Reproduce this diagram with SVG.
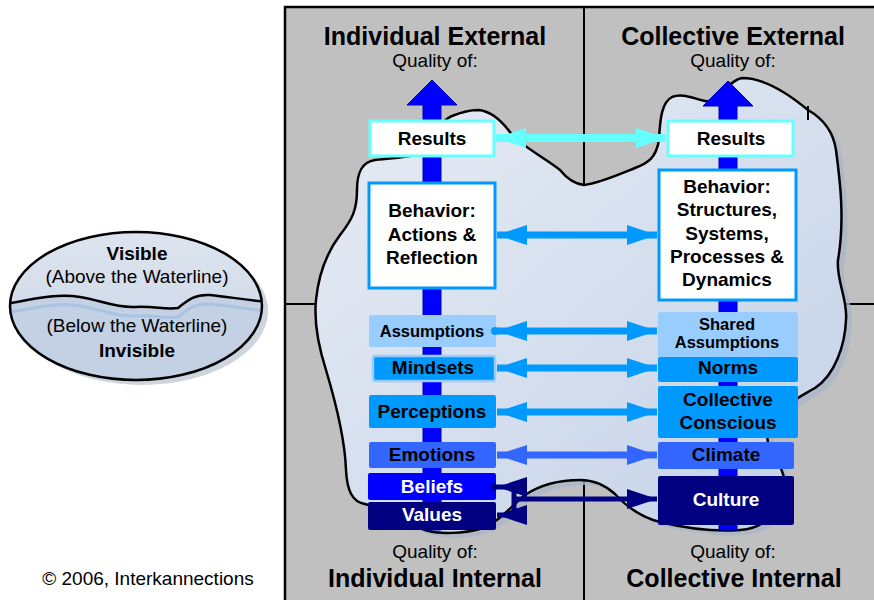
<svg xmlns="http://www.w3.org/2000/svg" width="874" height="600" viewBox="0 0 874 600">
<style>
text{font-family:"Liberation Sans",Arial,Helvetica,sans-serif;fill:#000}
.c{text-anchor:middle}
.b{font-weight:bold}
.lbl{font-weight:bold;font-size:19px;text-anchor:middle}
.sm{font-size:16.5px}
.w{fill:#fff}
.title{font-weight:bold;font-size:25px;text-anchor:middle}
.q{font-size:19px;text-anchor:middle}
.el{font-size:19px;text-anchor:middle}
.div{stroke:#000;stroke-width:2;fill:none}
.res{fill:#fff;stroke:#66ffff;stroke-width:3}
.beh{fill:#fff;stroke:#0099ff;stroke-width:3}
.vshaft{fill:#0000ff;stroke:#0000b0;stroke-width:1}
.cy{stroke:#66ffff;stroke-width:8;fill:none}
.bl{stroke:#0099ff;stroke-width:7;fill:none}
.bm{stroke:#3366ff;stroke-width:7;fill:none}
.nv{stroke:#000080;stroke-width:5;fill:none}
</style>
<defs>
<linearGradient id="cloudG" x1="0" y1="0" x2="1" y2="1">
<stop offset="0" stop-color="#e8edf5"/>
<stop offset="1" stop-color="#c3d1e7"/>
</linearGradient>
<linearGradient id="ellG" x1="0" y1="0" x2="0" y2="1">
<stop offset="0" stop-color="#dde4ef"/>
<stop offset="1" stop-color="#c9d4e6"/>
</linearGradient>
<clipPath id="ellClip"><ellipse cx="136" cy="306" rx="126" ry="74"/></clipPath>
<marker id="mCy" markerUnits="userSpaceOnUse" markerWidth="30" markerHeight="20" refX="30" refY="10" orient="auto-start-reverse"><path d="M0,0 L30,10 L0,20 z" fill="#66ffff"/></marker>
<marker id="mBl" markerUnits="userSpaceOnUse" markerWidth="30" markerHeight="20" refX="30" refY="10" orient="auto-start-reverse"><path d="M0,0 L30,10 L0,20 z" fill="#0099ff"/></marker>
<marker id="mBm" markerUnits="userSpaceOnUse" markerWidth="30" markerHeight="20" refX="30" refY="10" orient="auto-start-reverse"><path d="M0,0 L30,10 L0,20 z" fill="#3366ff"/></marker>
<marker id="mNv" markerUnits="userSpaceOnUse" markerWidth="30" markerHeight="20" refX="30" refY="10" orient="auto-start-reverse"><path d="M0,0 L30,10 L0,20 z" fill="#000080"/></marker>
</defs>
<rect width="874" height="600" fill="#fff"/>

<!-- quadrant panel -->
<g id="quadrants">
<rect x="285" y="7" width="600" height="600" fill="#c0c0c0" stroke="#000" stroke-width="2.5"/>
<line class="div" x1="584" y1="7" x2="584" y2="600"/>
<line class="div" x1="285" y1="304" x2="874" y2="304"/>
</g>

<!-- iceberg cloud -->
<g id="iceberg">
<path transform="translate(6,5)" fill="#a9b5c9" opacity="0.75" d="M452,116 C462,112 470,110 478,110 C492,111 503,122 512,135 C522,146 548,160 560,170 C568,180 575,184 584,185 C600,183 620,174 635,168 C648,163 656,158 659,140 C660,118 662,102 672,97 C682,93 692,98 705,101 C718,104 728,80 742,78 C765,78 790,95 808,110 C822,118 833,130 836,150 C840,180 845,220 838,260 C836,280 848,300 846,320 C845,345 835,375 815,388 C805,394 795,398 790,405 C775,418 765,432 768,442 C772,455 782,465 784,478 C790,500 770,528 740,530 C715,532 685,528 660,522 C640,517 625,505 615,494 C605,485 595,480 580,480 C560,480 540,485 525,495 C512,505 500,522 480,529 C465,533 440,535 425,530 C400,520 380,507 365,504 C352,502 347,490 346,470 C345,440 335,400 326,370 C318,345 314,320 316,300 C318,280 325,255 340,235 C352,220 357,210 357,190 C357,172 362,162 375,160 C390,158 400,158 410,156 C425,150 440,120 452,116 Z"/>
<path fill="url(#cloudG)" stroke="#000" stroke-width="2.5" d="M452,116 C462,112 470,110 478,110 C492,111 503,122 512,135 C522,146 548,160 560,170 C568,180 575,184 584,185 C600,183 620,174 635,168 C648,163 656,158 659,140 C660,118 662,102 672,97 C682,93 692,98 705,101 C718,104 728,80 742,78 C765,78 790,95 808,110 C822,118 833,130 836,150 C840,180 845,220 838,260 C836,280 848,300 846,320 C845,345 835,375 815,388 C805,394 795,398 790,405 C775,418 765,432 768,442 C772,455 782,465 784,478 C790,500 770,528 740,530 C715,532 685,528 660,522 C640,517 625,505 615,494 C605,485 595,480 580,480 C560,480 540,485 525,495 C512,505 500,522 480,529 C465,533 440,535 425,530 C400,520 380,507 365,504 C352,502 347,490 346,470 C345,440 335,400 326,370 C318,345 314,320 316,300 C318,280 325,255 340,235 C352,220 357,210 357,190 C357,172 362,162 375,160 C390,158 400,158 410,156 C425,150 440,120 452,116 Z"/>
<line x1="808" y1="106" x2="808" y2="120" stroke="#000" stroke-width="2"/>
</g>

<!-- vertical development arrows -->
<g id="individual-axis">
<polygon class="vshaft" points="423,530 423,105 407,105 432,80 457,105 441,105 441,530"/>
</g>
<g id="collective-axis">
<polygon class="vshaft" points="719,530 719,106 703,106 728,81 753,106 737,106 737,530"/>
</g>

<!-- titles -->
<g id="titles">
<text class="title" x="435" y="45">Individual External</text>
<text class="q" x="435" y="67">Quality of:</text>
<text class="title" x="733" y="45">Collective External</text>
<text class="q" x="733" y="67">Quality of:</text>
<text class="q" x="435" y="558">Quality of:</text>
<text class="title" x="435" y="587">Individual Internal</text>
<text class="q" x="733" y="558">Quality of:</text>
<text class="title" x="734" y="587">Collective Internal</text>
<text class="q" x="148" y="585">© 2006, Interkannections</text>
</g>

<!-- waterline legend -->
<g id="waterline-legend">
<ellipse cx="142" cy="311" rx="126" ry="74" fill="#cfd5de"/>
<ellipse cx="136" cy="306" rx="126" ry="74" fill="url(#ellG)"/>
<g clip-path="url(#ellClip)">
<path d="M0,305 C30,300 55,293 80,297 C100,300 115,308 135,307 C155,306 165,310 178,308 C188,300 195,294 210,295 C230,297 245,300 270,302 L270,390 L0,390 Z" fill="#c4d0e4"/>
<path d="M0,314 C30,309 55,302 80,306 C100,309 115,317 135,316 C155,315 165,319 178,317 C188,309 195,303 210,304 C230,306 245,309 270,311" fill="none" stroke="#a9c3e3" stroke-width="3"/>
<path d="M0,305 C30,300 55,293 80,297 C100,300 115,308 135,307 C155,306 165,310 178,308 C188,300 195,294 210,295 C230,297 245,300 270,302" fill="none" stroke="#000" stroke-width="2.5"/>
</g>
<ellipse cx="136" cy="306" rx="126" ry="74" fill="none" stroke="#000" stroke-width="2.5"/>
<text class="el b" x="137" y="260">Visible</text>
<text class="el" x="137" y="283">(Above the Waterline)</text>
<text class="el" x="137" y="332">(Below the Waterline)</text>
<text class="el b" x="137" y="357">Invisible</text>
</g>

<!-- Individual column nodes -->
<g id="ind-results"><rect class="res" x="370" y="121" width="124" height="35"/><text class="lbl" x="432" y="145">Results</text></g>
<g id="ind-behavior"><rect class="beh" x="369" y="183" width="126" height="105"/><text class="lbl" x="432" y="217">Behavior:</text><text class="lbl" x="432" y="241">Actions &amp;</text><text class="lbl" x="432" y="264">Reflection</text></g>
<g id="ind-assumptions"><rect x="369" y="315" width="127" height="32" rx="2" fill="#99ccff"/><text class="lbl sm" x="432" y="337">Assumptions</text></g>
<g id="ind-mindsets"><rect x="373" y="356" width="122" height="25" rx="2" fill="#0099ff" stroke="#99ccff" stroke-width="2.5"/><text class="lbl" x="433" y="374">Mindsets</text></g>
<g id="ind-perceptions"><rect x="369" y="395" width="127" height="33" rx="2" fill="#0099ff"/><text class="lbl" x="432" y="418">Perceptions</text></g>
<g id="ind-emotions"><rect x="369" y="442" width="127" height="26" rx="2" fill="#3366ff"/><text class="lbl" x="432" y="461">Emotions</text></g>
<g id="ind-beliefs"><rect x="368" y="473" width="128" height="27" rx="2" fill="#0000ff"/><text class="lbl w" x="432" y="493">Beliefs</text></g>
<g id="ind-values"><rect x="368" y="502" width="128" height="28" rx="2" fill="#000080"/><text class="lbl w" x="432" y="521">Values</text></g>

<!-- Collective column nodes -->
<g id="col-results"><rect class="res" x="668" y="121" width="125" height="35"/><text class="lbl" x="731" y="145">Results</text></g>
<g id="col-behavior"><rect class="beh" x="659" y="170" width="137" height="130"/><text class="lbl" x="727" y="193">Behavior:</text><text class="lbl" x="727" y="216">Structures,</text><text class="lbl" x="727" y="240">Systems,</text><text class="lbl" x="727" y="263">Processes &amp;</text><text class="lbl" x="727" y="286">Dynamics</text></g>
<g id="col-shared-assumptions"><rect x="658" y="312" width="140" height="45" rx="2" fill="#99ccff"/><text class="lbl sm" x="727" y="330">Shared</text><text class="lbl sm" x="727" y="348">Assumptions</text></g>
<g id="col-norms"><rect x="658" y="357" width="140" height="25" rx="2" fill="#0099ff"/><text class="lbl" x="728" y="374">Norms</text></g>
<g id="col-collective-conscious"><rect x="658" y="386" width="140" height="52" rx="2" fill="#0099ff"/><text class="lbl" x="728" y="406">Collective</text><text class="lbl" x="728" y="429">Conscious</text></g>
<g id="col-climate"><rect x="658" y="442" width="136" height="27" rx="2" fill="#3366ff"/><text class="lbl" x="726" y="461">Climate</text></g>
<g id="col-culture"><rect x="658" y="476" width="136" height="49" rx="2" fill="#000080"/><text class="lbl w" x="726" y="506">Culture</text></g>

<!-- connectors -->
<g id="connectors">
<line class="cy" x1="496" y1="138" x2="666" y2="138" marker-start="url(#mCy)" marker-end="url(#mCy)"/>
<line class="bl" x1="497" y1="235" x2="657" y2="235" marker-start="url(#mBl)" marker-end="url(#mBl)"/>
<line class="bl" x1="497" y1="331" x2="657" y2="331" marker-start="url(#mBl)" marker-end="url(#mBl)"/>
<circle cx="495" cy="331" r="4" fill="#0099ff"/>
<line class="bl" x1="497" y1="368" x2="657" y2="368" marker-start="url(#mBl)" marker-end="url(#mBl)"/>
<line class="bl" x1="497" y1="412" x2="657" y2="412" marker-start="url(#mBl)" marker-end="url(#mBl)"/>
<line class="bm" x1="497" y1="455" x2="657" y2="455" marker-start="url(#mBm)" marker-end="url(#mBm)"/>
<path class="nv" d="M514,485 L514,517"/>
<line class="nv" x1="514" y1="487" x2="497" y2="487" marker-end="url(#mNv)"/>
<line class="nv" x1="514" y1="515" x2="497" y2="515" marker-end="url(#mNv)"/>
<circle cx="494" cy="487" r="3.5" fill="#000080"/>
<line class="nv" x1="512" y1="499" x2="657" y2="499" marker-end="url(#mNv)"/>
</g>
</svg>
